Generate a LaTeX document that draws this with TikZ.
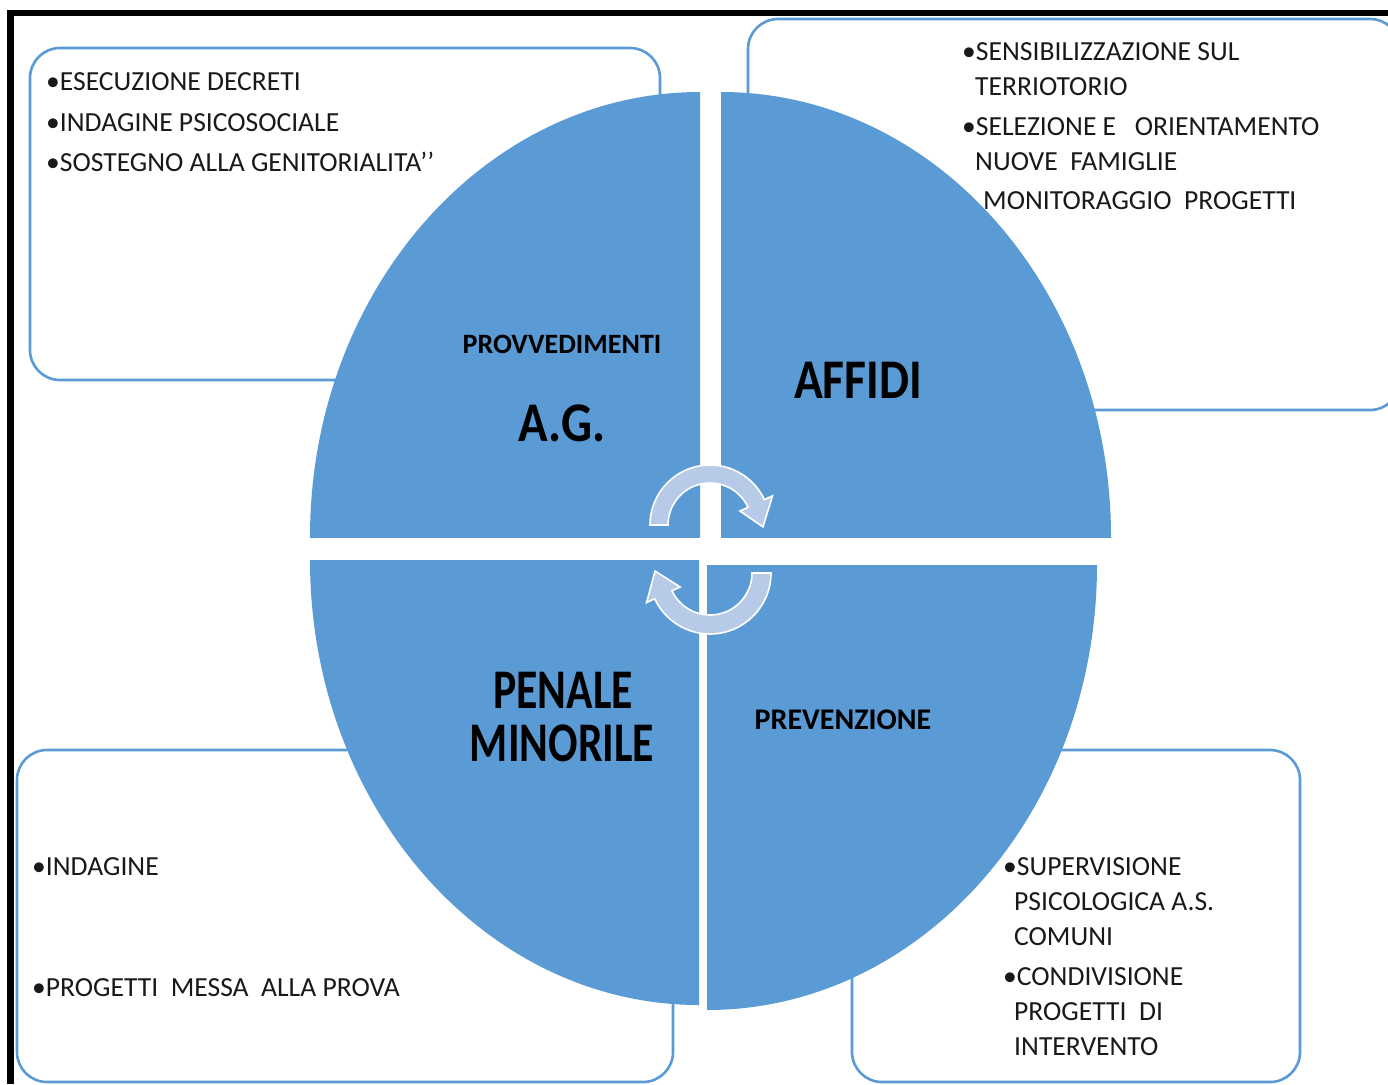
\documentclass[tikz,border=0pt]{standalone}
\usepackage{fontspec}
\setmainfont{Carlito}
\definecolor{qblue}{HTML}{5B9BD5}
\definecolor{lineblue}{HTML}{5B9BD5}
\definecolor{arrowfill}{HTML}{B7CAE7}
\begin{document}
\begin{tikzpicture}[x=1pt,y=-1pt,
  box/.style={draw=lineblue,line width=2.6pt,rounded corners=30pt,fill=white},
  quad/.style={fill=qblue},
  itemtxt/.style={anchor=base west,inner sep=0pt,font=\fontsize{27.6}{30}\selectfont,text=black!90},
  smallbold/.style={anchor=center,inner sep=0pt,font=\fontsize{28}{30}\selectfont\bfseries},
  bigbold/.style={anchor=center,inner sep=0pt,font=\fontsize{56}{60}\selectfont\bfseries},
  cyc/.style={fill=arrowfill,draw=white,line width=1.6pt,line join=miter}]
\useasboundingbox (0,0) rectangle (1388,1084);
\fill[white] (0,0) rectangle (1388,1084);
% black frame
\fill[black] (7,10) rectangle (1388,16);
\fill[black] (7,10) rectangle (14,1084);
% boxes
\draw[box] (30,48) rectangle (660,380);
\draw[box] (748,19) rectangle (1400,410);
\draw[box] (17,750) rectangle (673,1082);
\draw[box] (852,750) rectangle (1300,1082);
% quadrants
\begin{scope}\clip (300,80) rectangle (700,537);
\fill[quad] (700,537) ellipse [x radius=390, y radius=445];\end{scope}
\begin{scope}\clip (721,80) rectangle (1120,537);
\fill[quad] (721,537) ellipse [x radius=390, y radius=445];\end{scope}
\begin{scope}\clip (300,560) rectangle (699,1020);
\fill[quad] (699,560) ellipse [x radius=389, y radius=445];\end{scope}
\begin{scope}\clip (707,565) rectangle (1110,1020);
\fill[quad] (707,565) ellipse [x radius=390, y radius=445];\end{scope}
% cycle arrows
\begin{scope}[shift={(710,525)},yscale=-1]
\filldraw[cyc] (180:60) arc[start angle=180,end angle=25,radius=60] -- (25:69) -- (-2:53) -- (25:33) -- (25:42) arc[start angle=25,end angle=180,radius=42] -- cycle;
\end{scope}
\begin{scope}[shift={(710,573)},yscale=-1]
\filldraw[cyc] (0:61) arc[start angle=0,end angle=-155,radius=61] -- (-155:70) -- (178:55) -- (-155:33) -- (-155:42) arc[start angle=-155,end angle=0,radius=42] -- cycle;
\end{scope}
% central labels
\node[smallbold] (prov) at (562,344) {PROVVEDIMENTI};
\node[bigbold,xscale=0.87] (ag) at (562,423) {A.G.};
\node[bigbold,xscale=0.85] (affidi) at (858,380) {AFFIDI};
\node[bigbold,xscale=0.78] (penale) at (563,690) {PENALE};
\node[bigbold,xscale=0.78] (minorile) at (562,743) {MINORILE};
\node[smallbold,font=\fontsize{30}{32}\selectfont\bfseries] (prev) at (843,720) {PREVENZIONE};
% top-left box text
\node[itemtxt] (tl1) at (46,90) {•ESECUZIONE DECRETI};
\node[itemtxt] (tl2) at (46,131) {•INDAGINE PSICOSOCIALE};
\node[itemtxt] (tl3) at (46,171) {•SOSTEGNO ALLA GENITORIALITA’’};
% top-right box text
\node[itemtxt] (tr1) at (962,60) {•SENSIBILIZZAZIONE SUL};
\node[itemtxt] (tr2) at (975,95) {TERRIOTORIO};
\node[itemtxt] (tr3) at (962,135) {•SELEZIONE E\ \ \ ORIENTAMENTO};
\node[itemtxt] (tr4) at (975,170) {NUOVE\ \ FAMIGLIE};
\node[itemtxt] (tr5) at (983,209) {MONITORAGGIO\ \ PROGETTI};
% bottom-left box text
\node[itemtxt] (bl1) at (32,875) {•INDAGINE};
\node[itemtxt] (bl2) at (32,996) {•PROGETTI\ \ MESSA\ \ ALLA PROVA};
% bottom-right box text
\node[itemtxt] (br1) at (1003,875) {•SUPERVISIONE};
\node[itemtxt] (br2) at (1014,910) {PSICOLOGICA A.S.};
\node[itemtxt] (br3) at (1014,945) {COMUNI};
\node[itemtxt] (br4) at (1003,985) {•CONDIVISIONE};
\node[itemtxt] (br5) at (1014,1020) {PROGETTI\ \ DI};
\node[itemtxt] (br6) at (1014,1055) {INTERVENTO};
\end{tikzpicture}
\end{document}
